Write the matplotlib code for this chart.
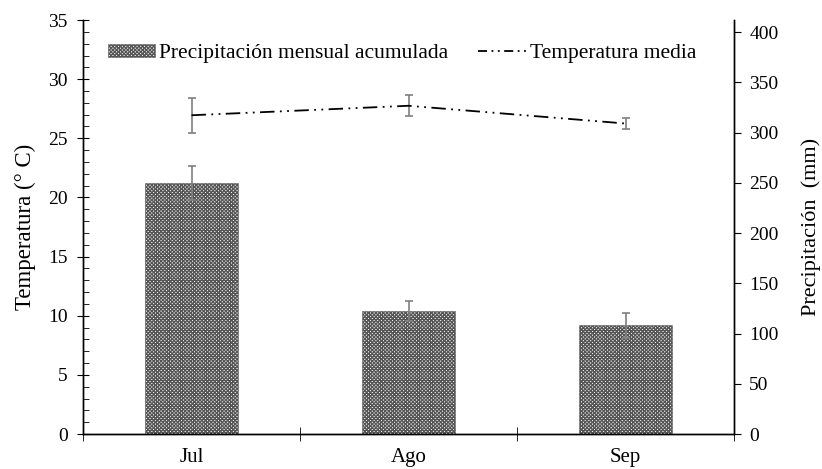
import numpy as np
import matplotlib
matplotlib.use('Agg')
import matplotlib.pyplot as plt
from matplotlib.patches import Patch
from matplotlib.lines import Line2D
from matplotlib.ticker import MultipleLocator, FixedLocator

plt.rcParams['font.family'] = ['Liberation Serif', 'DejaVu Serif']
plt.rcParams['hatch.linewidth'] = 1.0

# datos
meses = ['Jul', 'Ago', 'Sep']
precipitacion = [250, 122, 108]      # mm
precip_err = [17, 10, 12]
temperatura = [26.95, 27.75, 26.25]  # grados C
temp_err = [1.5, 0.9, 0.5]

x = np.arange(len(meses))
trama = 'xxxxxxxxx'
estilo = (0, (8, 3, 1, 3, 1, 3))

fig = plt.figure(figsize=(8.22, 4.69), dpi=100)
ax = fig.add_axes([0.101, 0.0746, 0.792, 0.8827])
ax2 = ax.twinx()

# barras de precipitacion (eje derecho)
ax2.bar(x, precipitacion, width=0.425, color='white', edgecolor='#555555',
        hatch=trama, linewidth=0.4)
ax2.errorbar(x, precipitacion, yerr=precip_err, fmt='none', ecolor='#7f7f7f',
             elinewidth=1.2, capsize=3, capthick=1.2)
ax2.set_ylim(0, 412)
ax2.set_yticks(np.arange(0, 401, 50))
ax2.tick_params(axis='y', direction='out', length=5, labelsize=14, pad=6)
ax2.set_ylabel('Precipitación  (mm)', fontsize=16, labelpad=16)

# linea de temperatura (eje izquierdo, encima)
ax.set_zorder(ax2.get_zorder() + 1)
ax.patch.set_visible(False)
ax.errorbar(x, temperatura, yerr=temp_err, fmt='none', ecolor='#7f7f7f',
            elinewidth=1.2, capsize=3, capthick=1.2)
ax.plot(x, temperatura, color='black', lw=1.3, linestyle=estilo)
ax.set_ylim(0, 35)
ax.set_xlim(-0.5, 2.5)
ax.yaxis.set_major_locator(MultipleLocator(5))
ax.yaxis.set_minor_locator(MultipleLocator(1))
ax.tick_params(axis='y', which='major', direction='inout', length=8, labelsize=14, pad=7)
ax.tick_params(axis='y', which='minor', direction='in', length=4)
ax.set_ylabel('Temperatura (° C)', fontsize=16.5, labelpad=9)

ax.set_xticks(x)
ax.set_xticklabels(meses, fontsize=15)
ax.xaxis.set_minor_locator(FixedLocator([-0.5, 0.5, 1.5, 2.5]))
ax.tick_params(axis='x', which='major', length=0, pad=10)
ax.tick_params(axis='x', which='minor', direction='inout', length=10)
ax2.tick_params(axis='x', which='both', length=0)

for a in (ax, ax2):
    a.spines['top'].set_visible(False)
    for s in a.spines.values():
        s.set_linewidth(1.0)

handles = [Patch(facecolor='white', edgecolor='#555555', hatch=trama, linewidth=0.4),
           Line2D([0], [0], color='black', lw=1.3, linestyle=(0, (5, 2.5, 1, 2.5, 1, 2.5)))]
ax.legend(handles, ['Precipitación mensual acumulada', 'Temperatura media'],
          loc='upper center', bbox_to_anchor=(0.49, 0.99), ncol=2, frameon=False,
          fontsize=15.5, handlelength=2.2, handleheight=0.6, handletextpad=0.2,
          columnspacing=1.4)

fig.savefig('out.png', dpi=100)
